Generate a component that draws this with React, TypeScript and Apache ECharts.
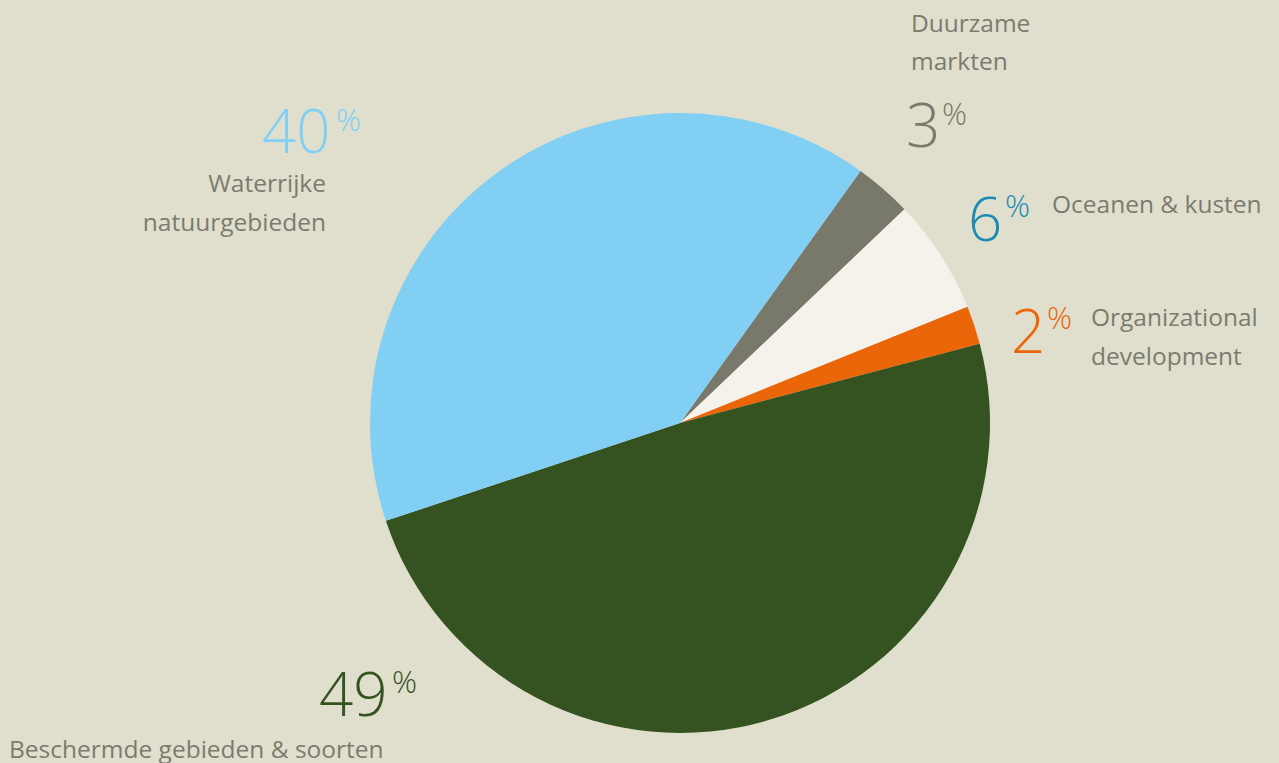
import React, { useEffect, useRef } from "react";
import * as echarts from "echarts";

const names = ["Duurzame markten", "Oceanen & kusten", "Organizational development", "Beschermde gebieden & soorten", "Waterrijke natuurgebieden"];
const values = [3, 6, 2, 49, 40];
const sliceColors = ["#78786b", "#f4f2eb", "#ea6608", "#355321", "#82cff4"];
const numberColors = ["#78786b", "#1b8ab4", "#ea6608", "#355321", "#82cff4"];

// label layout (positions only)
const layout = [
  { nx: 906, ny: 124, px: 942, py: 113, lx: 911, ly: [22, 60], align: "left", breakAt: 1 },
  { nx: 968, ny: 218, px: 1005, py: 205, lx: 1052, ly: [203], align: "left", breakAt: 0 },
  { nx: 1011, ny: 330, px: 1047, py: 317, lx: 1091, ly: [316, 355], align: "left", breakAt: 1 },
  { nx: 319, ny: 693, px: 392, py: 681, lx: 9, ly: [748], align: "left", breakAt: 0 },
  { nx: 262, ny: 130, px: 336, py: 119, lx: 326, ly: [182, 221], align: "right", breakAt: 1 },
];

export default function App() {
  const ref = useRef<HTMLDivElement>(null);
  useEffect(() => {
    const chart = echarts.init(ref.current!, null, { renderer: "svg" });
    const graphics: any[] = [];
    names.forEach((name, i) => {
      const l = layout[i];
      const words = name.split(" ");
      const lines = l.breakAt > 0 ? [words.slice(0, l.breakAt).join(" "), words.slice(l.breakAt).join(" ")] : [name];
      graphics.push({
        type: "text",
        x: l.nx,
        y: l.ny,
        style: { text: String(values[i]), fill: numberColors[i], font: "300 60px 'Open Sans'", textAlign: "left", textVerticalAlign: "middle" },
      });
      graphics.push({
        type: "text",
        x: l.px,
        y: l.py,
        style: { text: "%", fill: numberColors[i], font: "300 31px 'Open Sans'", textAlign: "left", textVerticalAlign: "middle" },
      });
      lines.forEach((t, k) => {
        graphics.push({
          type: "text",
          x: l.lx,
          y: l.ly[k],
          style: { text: t, fill: "#7b7b6f", font: "400 24.5px 'Open Sans'", textAlign: l.align, textVerticalAlign: "middle" },
        });
      });
    });
    chart.setOption({
      animation: false,
      backgroundColor: "#e0dfcd",
      series: [
        {
          type: "pie",
          center: [680, 423],
          radius: 310,
          startAngle: 54.4,
          clockwise: true,
          silent: true,
          label: { show: false },
          labelLine: { show: false },
          emphasis: { disabled: true },
          data: names.map((n, i) => ({ name: n, value: values[i], itemStyle: { color: sliceColors[i] } })),
        },
      ],
      graphic: graphics,
    });
    return () => chart.dispose();
  }, []);
  return <div ref={ref} style={{ position: "fixed", left: 0, top: 0, width: 1279, height: 763 }} />;
}
